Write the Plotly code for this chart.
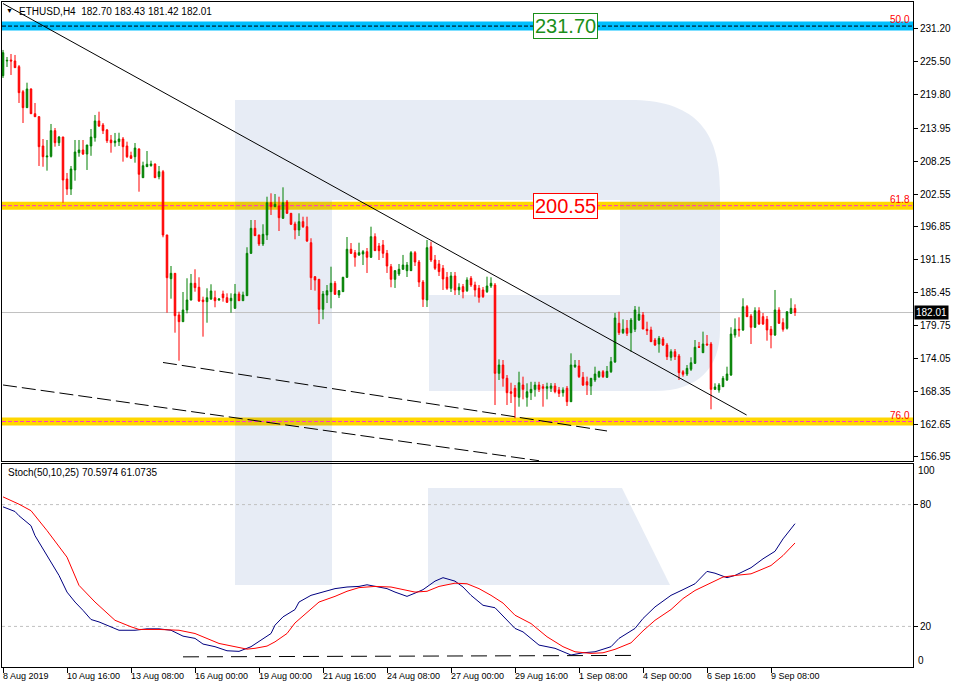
import plotly.graph_objects as go

# ---------------- data ----------------
opens = [223.10,225.65,225.82,225.65,224.66,220.32,217.55,220.79,216.50,215.98,
         210.90,209.00,209.10,213.56,211.47,212.46,205.17,203.44,206.74,209.74,
         210.21,209.51,210.90,212.34,215.24,214.54,213.68,211.94,211.47,211.65,
         212.11,210.90,209.22,209.04,210.38,205.40,207.31,207.48,207.78,205.58,
         206.44,195.46,187.88,188.81,181.58,180.42,182.45,184.18,187.08,186.39,
         184.18,183.89,184.36,184.58,184.20,185.22,184.58,184.06,182.74,185.22,
         184.06,184.93,192.28,196.62,195.46,193.90,195.46,201.06,200.37,200.49,
         198.36,201.18,199.22,197.37,196.33,197.77,196.90,194.12,188.22,187.77,
         182.57,185.05,185.63,187.08,185.05,185.63,188.12,192.98,192.39,191.99,
         192.16,192.56,191.59,195.17,193.55,193.72,192.28,189.96,187.77,188.69,
         189.51,189.27,189.27,192.39,190.77,187.30,184.18,193.43,191.12,190.43,
         189.68,188.12,186.21,188.35,185.92,186.50,185.80,187.95,186.78,186.21,
         185.92,185.63,186.61,186.78,171.46,172.90,170.60,168.27,168.86,167.30,
         169.43,167.30,168.10,168.68,169.43,169.14,168.86,168.86,169.26,168.57,
         168.10,168.86,166.54,172.61,172.73,170.77,170.00,169.26,170.30,170.88,
         171.74,170.77,171.74,173.43,180.14,178.51,179.27,178.51,179.10,180.71,
         181.58,179.10,178.98,177.24,176.55,177.41,176.38,174.24,175.21,174.47,
         171.74,171.34,172.16,173.20,176.08,175.04,176.55,176.55,168.68,168.57,
         169.14,170.30,171.17,178.11,179.10,178.98,183.02,181.41,179.45,182.33,
         181.29,180.83,179.10,178.11,182.45,180.25,179.27,181.87,182.70]
highs = [227.56,226.34,226.86,226.69,224.95,220.62,221.88,220.90,218.36,216.10,
         212.11,211.94,214.72,214.02,212.64,212.50,206.22,207.43,211.94,211.94,
         211.94,211.10,213.85,216.28,216.85,214.89,213.85,212.81,213.16,213.20,
         212.46,211.65,209.91,211.42,210.50,208.18,210.03,208.35,207.85,207.43,
         206.74,195.50,190.08,188.86,182.15,185.57,187.95,188.69,189.51,188.12,
         184.76,186.21,186.91,185.80,184.50,185.80,185.34,185.34,186.96,185.63,
         185.63,193.33,198.06,198.06,195.50,197.32,202.10,202.69,202.57,202.10,
         203.73,201.53,199.27,197.77,199.22,198.63,198.63,194.89,188.34,187.83,
         185.74,186.78,189.96,187.48,185.90,188.20,195.11,194.07,192.86,194.12,
         192.86,193.20,196.90,195.75,194.07,194.59,192.86,190.43,189.39,190.43,
         192.00,190.77,192.68,192.68,191.12,187.65,194.59,194.30,191.99,191.12,
         190.25,189.04,189.04,189.04,187.08,186.96,188.12,188.34,187.36,186.78,
         186.44,188.23,188.12,187.13,173.89,173.77,171.17,169.83,169.43,171.74,
         170.88,169.73,169.99,169.99,169.99,169.60,169.83,169.77,169.77,169.09,
         169.03,169.26,174.93,173.77,173.77,171.69,170.88,170.65,172.61,171.92,
         172.03,172.73,174.30,181.93,182.15,180.83,180.71,181.06,183.14,183.02,
         182.10,180.42,179.55,177.59,177.94,177.76,176.73,175.63,175.68,174.82,
         172.03,172.90,174.24,177.24,176.90,178.69,178.11,176.90,169.73,169.77,
         171.00,172.61,179.45,180.99,181.18,184.48,183.31,181.76,182.92,182.92,
         181.93,181.41,179.67,185.92,182.92,181.01,181.41,184.48,183.43]
lows = [222.70,224.61,223.22,224.43,218.36,214.89,217.50,216.45,215.93,207.43,
        207.30,206.62,208.90,210.78,210.90,201.06,202.40,202.40,204.88,209.04,
        209.34,206.74,209.20,211.65,214.20,212.98,211.42,209.74,210.78,210.90,
        208.18,208.82,208.65,208.00,202.97,205.35,207.25,207.31,205.35,205.12,
        195.06,181.98,184.41,178.51,173.65,180.37,181.87,184.10,185.62,183.83,
        177.82,180.24,184.18,182.92,184.00,183.89,183.66,181.98,182.62,184.01,
        184.01,184.88,192.16,195.29,193.55,193.55,194.59,198.93,200.30,196.15,
        198.24,199.10,197.19,194.71,195.29,196.67,194.24,185.92,185.80,180.02,
        180.83,183.66,182.74,185.05,184.53,185.57,188.00,192.16,189.96,191.82,
        190.25,188.87,191.47,192.68,191.12,191.47,188.87,186.39,186.27,188.35,
        189.39,188.17,189.21,190.08,186.44,182.97,182.97,190.77,189.39,188.35,
        185.92,185.92,185.57,185.05,185.05,184.47,185.57,186.44,184.76,183.72,
        184.53,185.40,186.27,165.96,170.30,169.14,165.96,166.31,163.66,165.67,
        166.95,165.67,166.83,167.41,168.22,165.67,166.95,168.22,167.99,167.35,
        167.41,165.79,166.48,172.38,170.65,169.26,167.70,167.70,169.95,170.65,
        170.65,170.65,171.52,173.26,178.11,178.28,177.94,175.21,178.63,180.54,
        179.10,178.11,176.90,176.20,175.04,176.20,173.77,173.65,173.77,170.30,
        170.88,171.00,171.86,173.08,175.85,174.99,176.30,165.22,168.57,168.10,
        169.09,170.13,171.00,177.64,177.82,178.80,181.23,176.55,179.33,179.85,
        179.85,177.12,175.80,177.94,180.02,178.69,179.05,181.75,181.42]
closes = [227.09,225.75,225.65,224.49,220.15,217.55,220.79,216.50,215.98,210.78,
          209.04,209.15,213.56,211.47,212.46,205.00,203.44,206.91,209.86,210.21,
          209.51,211.07,212.46,215.24,214.37,213.56,211.82,211.47,211.77,212.11,
          210.78,209.04,208.77,210.55,205.99,207.48,207.73,207.78,205.40,206.44,
          195.46,188.05,188.81,181.46,180.42,182.45,184.18,187.08,186.32,184.01,
          183.89,184.58,185.74,184.06,184.35,184.58,183.78,184.48,185.22,184.06,
          185.05,192.28,196.62,195.34,193.90,195.58,201.06,200.37,200.79,198.46,
          201.06,199.22,197.32,196.33,197.77,196.90,194.42,188.05,187.65,182.57,
          185.22,185.80,187.08,185.17,185.80,188.12,192.98,192.28,191.59,192.39,
          192.56,191.59,195.17,192.74,192.74,192.28,190.08,187.77,189.27,189.51,
          190.25,190.25,192.39,190.77,187.30,184.30,193.26,191.12,189.68,189.10,
          187.83,186.21,188.35,185.92,186.39,185.63,187.65,186.78,185.92,184.65,
          184.76,186.61,187.08,171.46,172.90,170.60,168.10,167.99,167.41,169.83,
          168.68,168.27,168.68,169.43,168.68,168.86,169.14,169.26,168.27,167.99,
          168.57,166.54,172.90,172.90,170.88,169.43,169.43,170.60,171.34,171.74,
          170.88,171.80,173.49,181.06,178.51,179.10,178.40,180.71,182.45,181.70,
          179.15,178.86,176.95,176.38,177.53,176.38,174.35,175.21,174.35,171.57,
          171.29,172.32,173.30,175.98,175.98,176.55,176.38,168.68,169.09,169.43,
          170.60,171.34,178.28,179.10,178.98,183.02,181.29,179.45,182.33,180.02,
          180.02,178.98,178.11,182.45,180.14,179.10,182.15,182.74,182.01]

# stochastic (50,10,25): main line (blue) and signal line (red), read at bar indices
stoch_k_idx = [0,3,4,7,8,10,12,14,16,18,20,22,24,27,29,33,36,39,42,45,48,50,53,56,59,62,64,
               67,68,70,73,74,77,81,83,86,89,91,93,96,98,101,103,105,108,110,113,115,117,
               120,123,125,128,130,132,134,138,141,142,145,148,152,154,158,160,163,167,170,
               173,176,178,181,183,187,190,193,195,198]
stoch_k = [78.9,76.6,74.5,69.6,64.7,58.2,51.6,45.1,36.9,32.0,27.9,23.4,22.2,19.8,18.1,18.1,18.8,
           18.8,18.1,15.2,14.1,11.3,10.0,8.0,7.7,10.0,12.7,16.5,20.6,24.7,28.3,32.0,35.3,37.4,
           38.6,39.4,39.7,40.5,39.7,38.6,36.9,34.8,36.4,38.1,42.3,44.0,42.3,39.4,35.3,30.4,
           29.2,25.0,19.0,17.3,14.1,10.8,9.2,7.0,5.9,7.0,7.5,10.0,14.1,19.0,23.9,29.6,35.3,
           38.1,41.0,47.1,46.2,44.0,45.1,48.9,53.3,57.0,63.1,70.6]
stoch_d_idx = [0,4,7,11,16,19,23,26,28,32,34,39,44,48,51,54,58,61,63,66,68,71,73,76,79,83,86,
               89,93,97,99,103,106,109,113,116,119,122,125,128,132,136,140,143,147,150,153,
               157,160,163,167,170,173,177,180,183,187,189,192,195,198]
stoch_d = [83.8,80.2,77.0,67.2,54.1,40.2,32.0,26.3,23.0,19.8,18.5,18.5,18.1,16.5,14.1,11.6,10.0,
           8.8,9.2,10.3,12.4,16.5,21.7,27.1,32.0,34.8,37.3,39.1,39.7,39.4,38.6,36.9,37.3,39.7,
           41.3,41.0,38.6,35.3,31.5,25.5,21.4,14.9,10.0,7.5,6.7,7.0,8.7,11.9,17.8,23.0,28.3,
           33.7,37.7,41.3,44.3,45.1,45.9,47.5,50.0,54.9,61.1]

# axis labels
price_ticks = [231.20,225.50,219.80,213.95,208.25,202.55,196.85,191.15,185.45,179.75,
               174.05,168.35,162.65,156.95]
price_tick_text = ["231.20","225.50","219.80","213.95","208.25","202.55","196.85","191.15",
                   "185.45","179.75","174.05","168.35","162.65","156.95"]
time_tick_idx = [0,16,32,48,64,80,96,112,128,144,160,176,192]
time_tick_text = ["8 Aug 2019","10 Aug 16:00","13 Aug 08:00","16 Aug 00:00","19 Aug 00:00",
                  "21 Aug 16:00","24 Aug 08:00","27 Aug 00:00","29 Aug 16:00","1 Sep 08:00",
                  "4 Sep 00:00","6 Sep 16:00","9 Sep 08:00"]

# Fibonacci levels and drawn trend lines
fib_labels = ["50.0", "61.8", "76.0"]
fib_prices = [231.70, 200.55, 163.10]
callout_text = ["231.70", "200.55"]
callout_price = [231.70, 200.55]
last_price = 182.01
trend_solid_x, trend_solid_y = [0, 185.9], [235.61, 164.23]
trend_dash1_x, trend_dash1_y = [40, 151], [173.34, 161.46]
trend_dash2_x, trend_dash2_y = [0, 134], [169.44, 156.30]
stoch_dash_x, stoch_dash_y = [45, 157], [5.0, 5.7]

# ---------------- layout helpers ----------------
W, H = 953, 688
ML, MR, MT, MB = 2, 40, 2, 21
PW, PH = W - ML - MR, H - MT - MB


def pxx(xp):
    return (xp - ML) / PW


def pxy(yp):
    return (H - MB - yp) / PH


FONT = "Liberation Sans, Arial, sans-serif"
GREEN = "#008000"
RED = "#ff0000"
idx = list(range(len(opens)))

fig = go.Figure()
fig.add_trace(go.Candlestick(
    x=idx, open=opens, high=highs, low=lows, close=closes,
    increasing=dict(line=dict(color=GREEN, width=1), fillcolor=GREEN),
    decreasing=dict(line=dict(color=RED, width=1), fillcolor=RED),
    whiskerwidth=0, showlegend=False, hoverinfo="skip", xaxis="x", yaxis="y"))
fig.add_trace(go.Scatter(x=stoch_k_idx, y=stoch_k, mode="lines",
                         line=dict(color="#000080", width=1), showlegend=False,
                         hoverinfo="skip", xaxis="x2", yaxis="y2"))
fig.add_trace(go.Scatter(x=stoch_d_idx, y=stoch_d, mode="lines",
                         line=dict(color=RED, width=1), showlegend=False,
                         hoverinfo="skip", xaxis="x2", yaxis="y2"))

shapes = []
band_colors = ["#00bfff", "#ffd700", "#ffd700"]
band_widths = [9, 8, 8]
for p, c, w in zip(fib_prices, band_colors, band_widths):
    shapes.append(dict(type="line", xref="paper", yref="y", x0=0, x1=1, y0=p, y1=p,
                       line=dict(color=c, width=w), layer="below"))

# watermark logo
logo_main = ("M {a},{b} L {c},{b} C {d},{b} {e},{f} {e},{g} L {e},{h} C {e},{i} {j},{k} {l},{k} "
             "L {m},{k} L {m},{n} L {o},{n} L {o},{p} L {q},{p} L {q},{r} L {a},{r} Z").format(
    a=pxx(235), b=pxy(100), c=pxx(630), d=pxx(692), e=pxx(720), f=pxy(128), g=pxy(190),
    h=pxy(330), i=pxy(368), j=pxx(698), k=pxy(391), l=pxx(655), m=pxx(429), n=pxy(295),
    o=pxx(620), p=pxy(200), q=pxx(332), r=pxy(585))
logo_leg = "M {a},{b} L {c},{b} L {d},{e} L {a},{e} Z".format(
    a=pxx(428), b=pxy(488), c=pxx(622), d=pxx(670), e=pxy(585))
for path in (logo_main, logo_leg):
    shapes.append(dict(type="path", xref="paper", yref="paper", path=path,
                       fillcolor="rgba(30,80,160,0.105)", line=dict(width=0), layer="below"))

dash_colors = ["#000000", "#ff33cc", "#ff33cc"]
for p, c in zip(fib_prices, dash_colors):
    shapes.append(dict(type="line", xref="paper", yref="y", x0=0, x1=1, y0=p, y1=p,
                       line=dict(color=c, width=1, dash="4px,2px"), layer="below"))
shapes.append(dict(type="line", xref="paper", yref="y", x0=0, x1=1, y0=last_price,
                   y1=last_price, line=dict(color="#c0c0c0", width=1), layer="below"))
for lv in (20, 80):
    shapes.append(dict(type="line", xref="paper", yref="y2", x0=0, x1=1, y0=lv, y1=lv,
                       line=dict(color="#c0c0c0", width=1, dash="3px,3px"), layer="below"))

shapes.append(dict(type="line", xref="x", yref="y", x0=trend_solid_x[0], x1=trend_solid_x[1],
                   y0=trend_solid_y[0], y1=trend_solid_y[1], line=dict(color="black", width=1)))
for xs, ys in ((trend_dash1_x, trend_dash1_y), (trend_dash2_x, trend_dash2_y)):
    shapes.append(dict(type="line", xref="x", yref="y", x0=xs[0], x1=xs[1], y0=ys[0], y1=ys[1],
                       line=dict(color="black", width=1, dash="14px,5px")))
shapes.append(dict(type="line", xref="x2", yref="y2", x0=stoch_dash_x[0], x1=stoch_dash_x[1],
                   y0=stoch_dash_y[0], y1=stoch_dash_y[1],
                   line=dict(color="black", width=1, dash="16px,8px")))

ann = []
ann.append(dict(xref="paper", yref="paper", x=pxx(4), y=pxy(10), text="▼", showarrow=False,
                xanchor="left", yanchor="middle", font=dict(size=7, color="black", family=FONT)))
ann.append(dict(xref="paper", yref="paper", x=pxx(17), y=pxy(11),
                text="ETHUSD,H4  182.70 183.43 181.42 182.01", showarrow=False,
                xanchor="left", yanchor="middle", font=dict(size=10, color="black", family=FONT)))
ann.append(dict(xref="paper", yref="paper", x=pxx(6), y=pxy(472),
                text="Stoch(50,10,25) 70.5974 61.0735", showarrow=False,
                xanchor="left", yanchor="middle", font=dict(size=10, color="black", family=FONT)))
for lab, p in zip(fib_labels, fib_prices):
    ann.append(dict(xref="paper", yref="y", x=1, y=p, text=lab, showarrow=False,
                    xanchor="right", yanchor="bottom", xshift=-1, yshift=-1,
                    font=dict(size=10, color=RED, family=FONT)))
for t, p, c in zip(callout_text, callout_price, ["#1a8f1a", RED]):
    ann.append(dict(xref="x", yref="y", x=140.5, y=p, text=t, showarrow=False,
                    xanchor="center", yanchor="middle", bgcolor="white", bordercolor=c,
                    borderwidth=1, borderpad=1, font=dict(size=20, color=c, family=FONT)))
ann.append(dict(xref="paper", yref="y", x=1, y=last_price, text="182.01", showarrow=False,
                xanchor="left", yanchor="middle", xshift=1, bgcolor="black", borderpad=1,
                font=dict(size=10, color="white", family=FONT)))
for ti, tt in zip(time_tick_idx, time_tick_text):
    ann.append(dict(xref="x2", yref="paper", x=ti, y=pxy(676), text=tt, showarrow=False,
                    xanchor="left", yanchor="middle", xshift=-2,
                    font=dict(size=9, color="black", family=FONT)))
for lab, v in (("100", 97), ("0", 3)):
    ann.append(dict(xref="paper", yref="y2", x=1, y=v, text=lab, showarrow=False,
                    xanchor="left", yanchor="middle", xshift=3,
                    font=dict(size=10, color="black", family=FONT)))

axis_common = dict(showgrid=False, zeroline=False, showline=True, linecolor="black",
                   linewidth=1, mirror=True)
fig.update_layout(
    width=W, height=H, margin=dict(l=ML, r=MR, t=MT, b=MB, pad=0),
    paper_bgcolor="white", plot_bgcolor="white", showlegend=False, boxgap=0.45,
    font=dict(family=FONT, size=10, color="black"),
    xaxis=dict(domain=[0, 1], anchor="y", range=[-0.25, 227.5], showticklabels=False,
               ticks="", rangeslider=dict(visible=False), **axis_common),
    yaxis=dict(domain=[pxy(461), 1], anchor="x", side="right", range=[156.25, 235.88],
               tickvals=price_ticks, ticktext=price_tick_text, ticks="outside", ticklen=4,
               tickcolor="black", tickfont=dict(size=10, family=FONT), **axis_common),
    xaxis2=dict(domain=[0, 1], anchor="y2", range=[-0.25, 227.5], tickvals=time_tick_idx,
                ticks="outside", ticklen=5, tickcolor="black", showticklabels=False,
                **axis_common),
    yaxis2=dict(domain=[0, pxy(464)], anchor="x2", side="right", range=[0, 100],
                tickvals=[20, 80], ticktext=["20", "80"], ticks="outside", ticklen=4,
                tickcolor="black", tickfont=dict(size=10, family=FONT), **axis_common),
    shapes=shapes, annotations=ann)

fig.write_html("out.html", config={"displayModeBar": False, "staticPlot": True},
               post_script="document.body.style.margin='0';document.body.style.overflow='hidden';")
